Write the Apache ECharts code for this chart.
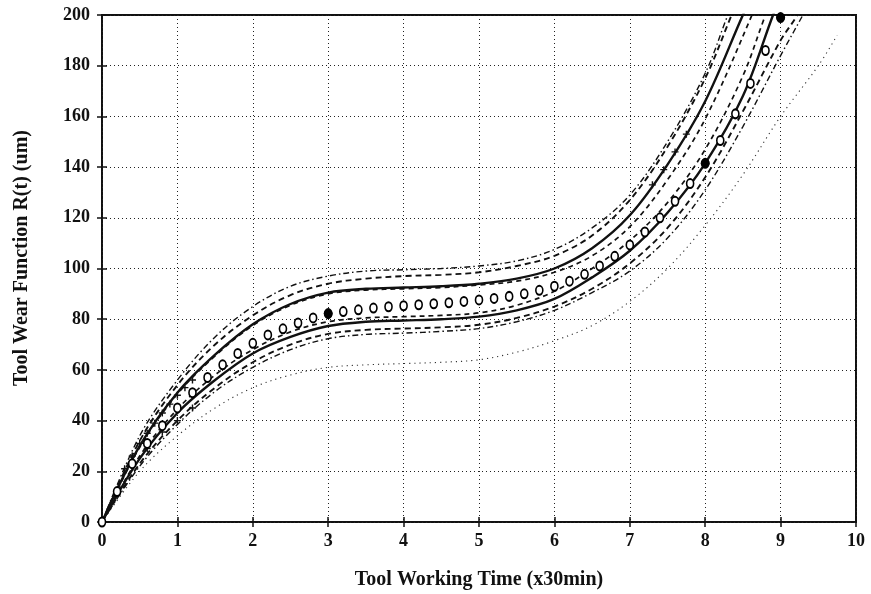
<!DOCTYPE html>
<html>
<head>
<meta charset="utf-8">
<title>Tool Wear Function</title>
<script src="https://cdn.jsdelivr.net/npm/echarts@6/dist/echarts.min.js"></script>
<style>
  html, body { margin: 0; padding: 0; background: #fff; }
  #chart { width: 871px; height: 594px; }
</style>
</head>
<body>
<div id="chart"></div>
<script>
// Axis ticks
const xTicks = [0, 1, 2, 3, 4, 5, 6, 7, 8, 9, 10];
const yTicks = [0, 20, 40, 60, 80, 100, 120, 140, 160, 180, 200];

// Axis titles
const xTitle = 'Tool Working Time (x30min)';
const yTitle = 'Tool Wear Function R(t) (um)';

// Mean wear estimate (open circles)
const meanTimes = [0, 0.2, 0.4, 0.6, 0.8, 1.0, 1.2, 1.4, 1.6, 1.8, 2.0, 2.2, 2.4, 2.6, 2.8, 3.0,
  3.2, 3.4, 3.6, 3.8, 4.0, 4.2, 4.4, 4.6, 4.8, 5.0, 5.2, 5.4, 5.6, 5.8, 6.0, 6.2, 6.4, 6.6, 6.8,
  7.0, 7.2, 7.4, 7.6, 7.8, 8.0, 8.2, 8.4, 8.6, 8.8, 9.0];
const meanValues = [0, 12, 23, 31, 38, 45, 51, 57, 62, 66.5, 70.5, 73.8, 76.2, 78.5, 80.5, 82.2,
  83, 83.7, 84.4, 84.9, 85.3, 85.7, 86.1, 86.5, 87, 87.6, 88.2, 89, 90, 91.4, 93, 95, 97.7, 101, 104.8,
  109.3, 114.4, 120, 126.5, 133.5, 141.5, 150.5, 161, 173, 186, 199];

// Measured wear (filled dots)
const measuredTimes = [3, 8, 9];
const measuredValues = [82.2, 141.5, 199];

// Bound curves
const upperSolidT = [0, 0.5, 1, 1.5, 2, 2.5, 3, 3.5, 4, 4.5, 5, 5.5, 6, 6.5, 7, 7.5, 8, 8.5, 8.75];
const upperSolidV = [0, 30, 51, 66, 78, 86, 90.5, 92, 92.5, 93, 94, 96, 100, 108, 121, 141, 166, 200, 216];

const upperDashT = [0, 0.5, 1, 1.5, 2, 2.5, 3, 3.5, 4, 4.5, 5, 5.5, 6, 6.5, 7, 7.5, 8, 8.35, 8.6];
const upperDashV = [0, 32, 54, 70, 81.5, 89.5, 94, 96, 97, 97.5, 98.5, 101, 105, 113, 127, 148, 175, 200, 218];

const upperDashDotT = [0, 0.5, 1, 1.5, 2, 2.5, 3, 3.5, 4, 4.5, 5, 5.5, 6, 6.5, 7, 7.5, 8, 8.3, 8.55];
const upperDashDotV = [0, 34, 56, 73, 85, 93, 97, 99, 99.5, 100, 101, 103, 107.5, 116, 129, 150, 177, 200, 218];

const upperInnerT = [0, 0.5, 1, 1.5, 2, 2.5, 3, 3.5, 4, 4.5, 5, 5.5, 6, 6.5, 7, 7.5, 8, 8.62, 8.85];
const upperInnerV = [0, 29.5, 50.5, 65.5, 77.5, 85.5, 90, 91.5, 92, 92.5, 93.5, 95, 98.5, 105, 116.5, 135, 159, 200, 218];

const lowerSolidT = [0, 0.5, 1, 1.5, 2, 2.5, 3, 3.5, 4, 4.5, 5, 5.5, 6, 6.5, 7, 7.5, 8, 8.5, 8.9, 9.1];
const lowerSolidV = [0, 25, 43, 56, 66.5, 73, 77.3, 79, 79.5, 80, 81, 83.5, 88, 96.5, 107, 122, 141.5, 168, 200, 215];

const lowerInnerT = [0, 0.5, 1, 1.5, 2, 2.5, 3, 3.5, 4, 4.5, 5, 5.5, 6, 6.5, 7, 7.5, 8, 8.5, 8.8, 9.0];
const lowerInnerV = [0, 26, 44.5, 58, 68, 75, 79, 80.5, 81, 81.5, 82.5, 85.5, 91, 100, 111, 126, 147, 176, 200, 214];

const lowerDashT = [0, 0.5, 1, 1.5, 2, 2.5, 3, 3.5, 4, 4.5, 5, 5.5, 6, 6.5, 7, 7.5, 8, 8.5, 9, 9.22, 9.4];
const lowerDashV = [0, 23, 40, 53, 63, 70, 74.2, 75.8, 76.3, 76.8, 77.8, 80.5, 85, 92, 102, 116, 136, 162, 190, 200, 212];

const lowerDashDotT = [0, 0.5, 1, 1.5, 2, 2.5, 3, 3.5, 4, 4.5, 5, 5.5, 6, 6.5, 7, 7.5, 8, 8.5, 9, 9.35, 9.5];
const lowerDashDotV = [0, 22, 38.5, 51.5, 61, 68, 72.3, 74, 74.5, 75.2, 76.3, 79, 83.5, 90.5, 99, 112, 131, 156, 184, 203, 212];

const lowerDottedT = [0, 0.5, 1, 1.5, 2, 2.5, 3, 3.5, 4, 4.5, 5, 5.5, 6, 6.5, 7, 7.5, 8, 8.5, 9, 9.5, 9.75];
const lowerDottedV = [0, 20, 34, 45, 53, 58, 61, 62, 62.5, 63, 64, 67, 71.5, 77.5, 87, 100, 117, 137, 160, 180, 192];

// Early-stage samples (plus marks)
const plusTimes = [0.3, 0.4, 0.5, 0.6, 0.7, 0.8, 0.9, 1.0, 1.1, 1.2, 0.6, 0.8, 1.0, 1.2, 7.3, 7.45, 7.6, 7.75];
const plusValues = [21, 26, 31, 35, 39, 43, 46.5, 50, 53, 56, 29, 35.5, 40, 45, 133, 139, 146, 153];

const pairs = (ts, vs) => ts.map((t, i) => [t, vs[i]]);

const serifFont = '"Liberation Serif", "DejaVu Serif", serif';
const ink = '#111';

function curve(name, ts, vs, width, type, color) {
  return {
    name, type: 'line', smooth: 0.35, showSymbol: false, silent: true,
    data: pairs(ts, vs),
    lineStyle: { color: color || ink, width, type },
    z: 3
  };
}

const chart = echarts.init(document.getElementById('chart'), null, { renderer: 'canvas' });

const tickFmtX = v => (xTicks.indexOf(v) >= 0 ? String(v) : '');
const tickFmtY = v => (yTicks.indexOf(v) >= 0 ? String(v) : '');

chart.setOption({
  animation: false,
  backgroundColor: '#fff',
  grid: {
    left: 102, right: 15, top: 15, bottom: 72, outerBoundsMode: 'none', containLabel: false,
    show: true, borderColor: ink, borderWidth: 2, backgroundColor: 'transparent'
  },
  graphic: [
    {
      type: 'text', x: 22, y: 258, rotation: Math.PI / 2, silent: true,
      style: { text: yTitle, fontFamily: serifFont, fontSize: 20, fontWeight: 'bold', fill: ink, align: 'center', verticalAlign: 'middle' }
    }
  ],
  xAxis: [
    {
      type: 'value', min: 0, max: 10, interval: 1, position: 'bottom',
      name: xTitle, nameLocation: 'middle', nameGap: 48,
      nameTextStyle: { fontFamily: serifFont, fontSize: 20, fontWeight: 'bold', color: ink },
      axisLine: { show: false },
      axisTick: { show: true, inside: true, length: 5, lineStyle: { color: ink, width: 1.5 } },
      axisLabel: { formatter: tickFmtX, fontFamily: serifFont, fontSize: 18, fontWeight: 'bold', color: ink, margin: 10 },
      splitLine: { show: true, lineStyle: { color: '#222', width: 1, type: [1, 3] } }
    },
    {
      type: 'value', min: 0, max: 10, interval: 1, position: 'top',
      axisLine: { show: false },
      axisTick: { show: true, inside: true, length: 5, lineStyle: { color: ink, width: 1.5 } },
      axisLabel: { show: false }, splitLine: { show: false }
    }
  ],
  yAxis: [
    {
      type: 'value', min: 0, max: 200, interval: 20, position: 'left',
      axisLine: { show: false },
      axisTick: { show: true, inside: true, length: 5, lineStyle: { color: ink, width: 1.5 } },
      axisLabel: { formatter: tickFmtY, fontFamily: serifFont, fontSize: 18, fontWeight: 'bold', color: ink, margin: 12 },
      splitLine: { show: true, lineStyle: { color: '#222', width: 1, type: [1, 3] } }
    },
    {
      type: 'value', min: 0, max: 200, interval: 20, position: 'right',
      axisLine: { show: false },
      axisTick: { show: true, inside: true, length: 5, lineStyle: { color: ink, width: 1.5 } },
      axisLabel: { show: false }, splitLine: { show: false }
    }
  ],
  series: [
    curve('lower dotted', lowerDottedT, lowerDottedV, 1.1, [1.2, 4], '#333'),
    curve('upper dash-dot', upperDashDotT, upperDashDotV, 1.4, [6, 3, 1.5, 3]),
    curve('lower dash-dot', lowerDashDotT, lowerDashDotV, 1.4, [6, 3, 1.5, 3]),
    curve('upper dashed', upperDashT, upperDashV, 1.9, [6, 4]),
    curve('lower dashed', lowerDashT, lowerDashV, 1.9, [6, 4]),
    curve('upper inner dashed', upperInnerT, upperInnerV, 1.7, [5, 4]),
    curve('lower inner dashed', lowerInnerT, lowerInnerV, 1.7, [5, 4]),
    curve('upper bound', upperSolidT, upperSolidV, 2.4, 'solid'),
    curve('lower bound', lowerSolidT, lowerSolidV, 2.4, 'solid'),
    {
      name: 'mean', type: 'scatter', silent: true, z: 5,
      data: pairs(meanTimes, meanValues),
      symbol: 'circle', symbolSize: [7, 9],
      itemStyle: { color: '#fff', borderColor: '#000', borderWidth: 1.8, opacity: 1 }
    },
    {
      name: 'samples', type: 'scatter', silent: true, z: 4,
      data: pairs(plusTimes, plusValues),
      symbol: 'path://M4,0h2v4h4v2h-4v4h-2v-4h-4v-2h4z', symbolSize: 7,
      itemStyle: { color: ink, opacity: 1 }
    },
    {
      name: 'measured', type: 'scatter', silent: true, z: 6,
      data: pairs(measuredTimes, measuredValues),
      symbol: 'circle', symbolSize: 9,
      itemStyle: { color: '#000', opacity: 1 }
    }
  ]
});
</script>
</body>
</html>
